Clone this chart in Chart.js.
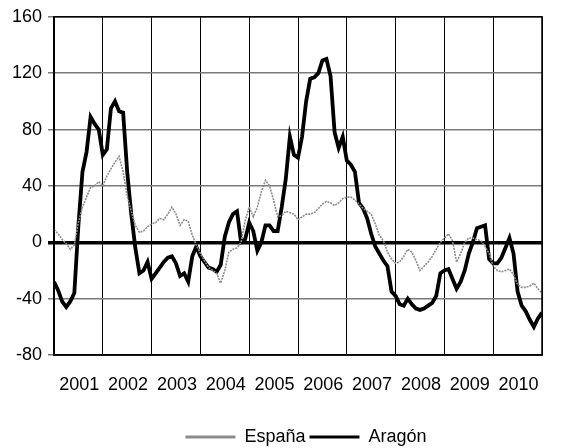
<!DOCTYPE html>
<html>
<head>
<meta charset="utf-8">
<script src="https://cdn.jsdelivr.net/npm/chart.js@4.4.0/dist/chart.umd.min.js"></script>
<style>
  html, body { margin: 0; padding: 0; background: #fff; }
  #wrap { width: 561px; height: 448px; }
</style>
</head>
<body>
<div id="wrap"><canvas id="chart"></canvas></div>
<script>
// year labels, one per 12-month block
const years = ['2001', '2002', '2003', '2004', '2005', '2006', '2007', '2008', '2009', '2010'];

// monthly values, Jan 2001 .. Jan 2011 (121 points)
const espana = [
  9, 6, 2, -1, -5, -2, 14, 25, 32, 39, 40, 43,
  40, 47, 52, 57, 61, 50, 33, 22, 12, 7, 8, 11,
  13, 14, 17, 16, 20, 25, 20, 12, 16, 15, 5, -2,
  -8, -13, -18, -20, -22, -29, -20, -7, -5, -4, 0, 15,
  25, 18, 25, 36, 44, 40, 30, 18, 19, 22, 21, 20,
  16, 18, 20, 20, 21, 24, 27, 29, 28, 26, 28, 31,
  32, 32, 30, 27, 24, 22, 20, 13, 5, 1, -7, -12,
  -15, -14, -10, -5, -7, -13, -20, -17, -14, -10, -5, 0,
  3, 6, 1, -14, -8, 0, 3, 3, 2, 1, -3, -8,
  -17, -20, -21, -20, -19, -23, -30, -32, -32, -31, -29, -33,
  -36
];
const aragon = [
  -28, -34, -42, -46, -42, -36, 12, 50, 64, 89, 84, 80,
  62, 66, 95, 100, 93, 92, 50, 20, -4, -22, -20, -14,
  -26, -22, -18, -14, -11, -10, -15, -24, -22, -28, -10, -3,
  -10, -14, -18, -19, -21, -16, 4, 14, 20, 22, 0, 2,
  14, 8, -6, 0, 12, 12, 8, 8, 25, 45, 75, 62,
  60, 75, 100, 116, 117, 120, 129, 130, 118, 78, 67, 75,
  58, 55, 50, 28, 24, 17, 6, -3, -8, -13, -17, -35,
  -38, -44, -45, -40, -44, -47, -48, -47, -45, -43, -38, -22,
  -20, -19, -26, -33, -28, -20, -8, 0, 10, 11, 12, -12,
  -15, -15, -11, -4, 3, -8, -35, -45, -49, -55, -60, -54,
  -50
];

const font = { family: "'Liberation Sans', Arial, sans-serif", size: 18 };
const toPoints = arr => arr.map((v, i) => ({ x: i, y: v }));

new Chart(document.getElementById('chart'), {
  type: 'line',
  data: {
    datasets: [{
      label: 'España',
      data: toPoints(espana),
      borderColor: '#8c8c8c',
      backgroundColor: '#8c8c8c',
      borderWidth: 1.6,
      borderDash: [2, 1],
      pointRadius: 0,
      tension: 0
    }, {
      label: 'Aragón',
      data: toPoints(aragon),
      borderColor: '#000',
      backgroundColor: '#000',
      borderWidth: 3.8,
      pointRadius: 0,
      tension: 0
    }]
  },
  options: {
    responsive: true,
    maintainAspectRatio: false,
    animation: false,
    layout: { padding: { top: 16, right: 1, left: 0, bottom: 4 } },
    plugins: {
      tooltip: { enabled: false },
      legend: {
        position: 'bottom',
        labels: {
          color: '#000',
          font: font,
          boxWidth: 50,
          boxHeight: 3,
          padding: 4,
          generateLabels: chart => chart.data.datasets.map((ds, i) => ({
            text: ds.label,
            fillStyle: ds.borderColor,
            strokeStyle: ds.borderColor,
            lineWidth: 0,
            fontColor: '#000',
            datasetIndex: i
          }))
        }
      }
    },
    scales: {
      x: {
        type: 'linear',
        min: 0,
        max: 120,
        grid: { color: '#000', lineWidth: 1, drawTicks: false },
        border: { color: '#000', width: 1.5 },
        ticks: {
          stepSize: 12,
          autoSkip: false,
          maxRotation: 0,
          padding: 19,
          labelOffset: 25.3,
          color: '#000',
          font: font,
          callback: v => years[v / 12] || ''
        },
        afterFit: s => { s.height = 57; }
      },
      y: {
        min: -80,
        max: 160,
        grid: {
          color: c => c.tick && c.tick.value === 0 ? '#000' : '#7a7a7a',
          lineWidth: c => c.tick && c.tick.value === 0 ? 3.5 : 1.5,
          tickLength: 6
        },
        border: { color: '#000', width: 1.5 },
        ticks: { stepSize: 40, padding: 6, color: '#000', font: font },
        afterFit: s => { s.width = 54; }
      }
    }
  },
  plugins: [{
    id: 'legendShift',
    afterLayout(chart) {
      const lg = chart.legend;
      lg.left += 26; lg.right += 26;
      lg.top += 12; lg.bottom += 12;
    }
  }, {
    id: 'frame',
    afterDatasetsDraw(chart) {
      const { ctx, chartArea: a } = chart;
      ctx.save();
      ctx.strokeStyle = '#000';
      ctx.lineWidth = 1.5;
      ctx.strokeRect(a.left, a.top, a.right - a.left, a.bottom - a.top);
      ctx.restore();
    }
  }]
});
</script>
</body>
</html>
